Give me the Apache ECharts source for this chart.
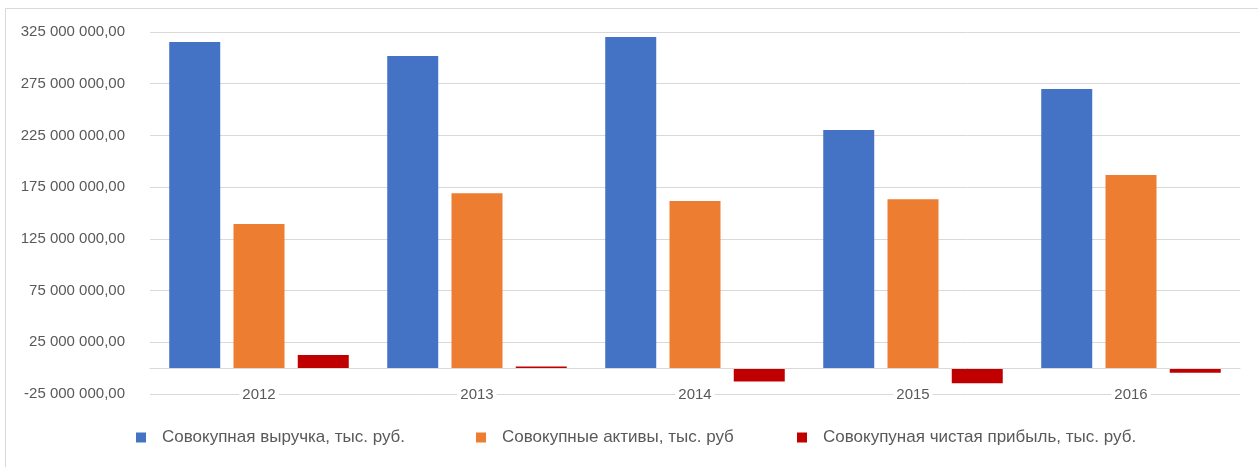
<!DOCTYPE html>
<html>
<head>
<meta charset="utf-8">
<script src="https://cdn.jsdelivr.net/npm/echarts@6/dist/echarts.min.js"></script>
<style>
  html, body { margin: 0; padding: 0; background: #ffffff; }
  #chart { width: 1258px; height: 467px; }
</style>
</head>
<body>
<div id="chart"></div>
<script>
// Годы отчётного периода
var years = ['2012', '2013', '2014', '2015', '2016'];

// Показатели, тыс. руб.
var revenue = [315300000, 301700000, 320100000, 230200000, 269800000];
var assets = [139300000, 169200000, 161500000, 163400000, 186700000];
var netProfit = [12600000, 1500000, -13000000, -14500000, -4500000];

var seriesNames = [
  'Совокупная выручка, тыс. руб.',
  'Совокупные активы, тыс. руб',
  'Совокупуная чистая прибыль, тыс. руб.'
];
var seriesColors = ['#4472c4', '#ed7d31', '#c00000'];

var textColor = '#595959';
var gridColor = '#d9d9d9';
var fontFamily = '"Liberation Sans", Arial, sans-serif';

// Формат подписей оси: пробел между разрядами, две цифры после запятой
function formatValue(v) {
  var neg = v < 0;
  var s = String(Math.abs(Math.round(v)));
  var out = '';
  while (s.length > 3) {
    out = ' ' + s.slice(-3) + out;
    s = s.slice(0, -3);
  }
  out = s + out;
  return (neg ? '-' : '') + out + ',00';
}

function makeLegend(name, left) {
  return {
    data: [name],
    left: left,
    top: 429,
    padding: 0,
    itemWidth: 10,
    itemHeight: 10,
    icon: 'rect',
    textStyle: {
      color: textColor,
      fontSize: 17,
      fontFamily: fontFamily,
      padding: [0, 0, 0, 11]
    }
  };
}

var chart = echarts.init(document.getElementById('chart'), null, { renderer: 'canvas' });

chart.setOption({
  backgroundColor: '#ffffff',
  animation: false,
  graphic: [
    {
      type: 'polyline',
      shape: { points: [[5.5, 467], [5.5, 8.5], [1258, 8.5]] },
      style: { stroke: '#d9d9d9', lineWidth: 1, fill: null }
    }
  ],
  legend: [
    makeLegend(seriesNames[0], 136),
    makeLegend(seriesNames[1], 476),
    makeLegend(seriesNames[2], 797)
  ],
  grid: {
    left: 150,
    right: 18,
    top: 32,
    bottom: 73,
    containLabel: false
  },
  xAxis: {
    type: 'category',
    data: years,
    axisLine: { onZero: true, lineStyle: { color: gridColor, width: 1 } },
    axisTick: { show: false },
    axisLabel: {
      color: textColor,
      fontSize: 15,
      fontFamily: fontFamily,
      margin: -7,
      backgroundColor: '#ffffff',
      padding: [0, 3, 0, 3]
    },
    z: 5
  },
  yAxis: {
    type: 'value',
    min: -25000000,
    max: 325000000,
    interval: 50000000,
    axisLine: { show: false },
    axisTick: { show: false },
    splitLine: { lineStyle: { color: gridColor, width: 1 } },
    axisLabel: {
      color: textColor,
      fontSize: 15,
      fontFamily: fontFamily,
      margin: 25,
      formatter: formatValue
    }
  },
  series: [
    {
      name: seriesNames[0],
      type: 'bar',
      data: revenue,
      barWidth: 51,
      barGap: '26%',
      itemStyle: { color: seriesColors[0] }
    },
    {
      name: seriesNames[1],
      type: 'bar',
      data: assets,
      barWidth: 51,
      barGap: '26%',
      itemStyle: { color: seriesColors[1] }
    },
    {
      name: seriesNames[2],
      type: 'bar',
      data: netProfit,
      barWidth: 51,
      barGap: '26%',
      itemStyle: { color: seriesColors[2] }
    }
  ]
});
</script>
</body>
</html>
